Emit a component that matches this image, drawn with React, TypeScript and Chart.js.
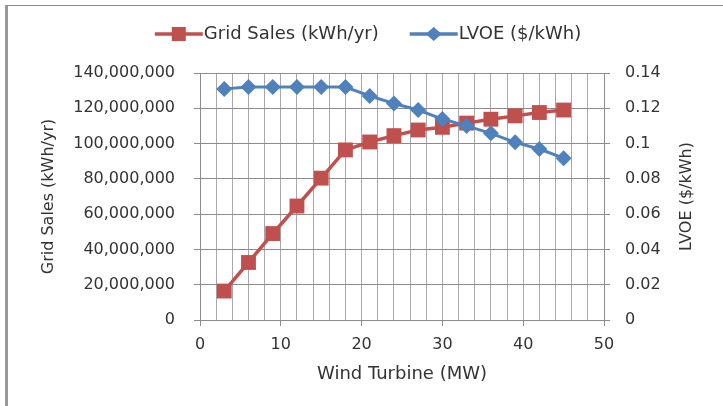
import React, { useEffect, useRef } from 'react';
import { Chart, registerables } from 'chart.js';

Chart.register(...registerables);

// ---- data ----
const windTurbineMW = [3, 6, 9, 12, 15, 18, 21, 24, 27, 30, 33, 36, 39, 42, 45];
const gridSalesKWh = [
  16.4e6, 32.6e6, 49.0e6, 64.6e6, 80.4e6, 96.4e6, 100.9e6, 104.5e6,
  107.7e6, 109.2e6, 111.6e6, 113.8e6, 115.7e6, 117.6e6, 119.0e6,
];
const lvoeDollarPerKWh = [
  0.131, 0.132, 0.132, 0.132, 0.132, 0.132, 0.127, 0.1227,
  0.119, 0.1139, 0.110, 0.1058, 0.1007, 0.0969, 0.0917,
];
const seriesLabels = ['Grid Sales (kWh/yr)', 'LVOE ($/kWh)'];
const xTitle = 'Wind Turbine (MW)';
const leftTitle = 'Grid Sales (kWh/yr)';
const rightTitle = 'LVOE ($/kWh)';

const FONT = "'DejaVu Sans', sans-serif";
const TEXT = '#333333';
const RED = '#C0504D';
const BLUE = '#4F81BD';

const overlayPlugin = {
  id: 'overlay',
  afterDraw(chart: any) {
    const ctx: CanvasRenderingContext2D = chart.ctx;
    ctx.save();
    // legend
    ctx.font = `18px ${FONT}`;
    ctx.textBaseline = 'middle';
    const items = chart.data.datasets.map((ds: any) => ({
      label: ds.label,
      color: ds.borderColor,
      style: ds.pointStyle,
      w: ctx.measureText(ds.label).width,
    }));
    const lineLen = 48;
    const gapText = 1;
    const gapItem = 31;
    const total =
      items.reduce((s: number, it: any) => s + lineLen + gapText + it.w, 0) +
      gapItem * (items.length - 1);
    let x = 368 - total / 2;
    const y = 34;
    items.forEach((it: any) => {
      ctx.strokeStyle = it.color;
      ctx.lineWidth = 3.5;
      ctx.beginPath();
      ctx.moveTo(x, y);
      ctx.lineTo(x + lineLen, y);
      ctx.stroke();
      ctx.fillStyle = it.color;
      const cx = x + lineLen / 2;
      if (it.style === 'rect') {
        ctx.fillRect(cx - 7, y - 7, 14, 14);
      } else {
        ctx.beginPath();
        ctx.moveTo(cx, y - 7);
        ctx.lineTo(cx + 8, y);
        ctx.lineTo(cx, y + 7);
        ctx.lineTo(cx - 8, y);
        ctx.closePath();
        ctx.fill();
      }
      ctx.fillStyle = TEXT;
      ctx.textAlign = 'left';
      ctx.fillText(it.label, x + lineLen + gapText, y);
      x += lineLen + gapText + it.w + gapItem;
    });
    // right axis title (reads bottom to top)
    ctx.font = `16px ${FONT}`;
    ctx.fillStyle = TEXT;
    ctx.translate(687, (chart.chartArea.top + chart.chartArea.bottom) / 2);
    ctx.rotate(-Math.PI / 2);
    ctx.textAlign = 'center';
    ctx.textBaseline = 'middle';
    ctx.fillText(rightTitle, 0, 0);
    ctx.restore();
  },
};

export default function App() {
  const canvasRef = useRef<HTMLCanvasElement | null>(null);

  useEffect(() => {
    const canvas = canvasRef.current;
    if (!canvas) return;
    const chart = new Chart(canvas, {
      type: 'line',
      data: {
        datasets: [
          {
            label: seriesLabels[0],
            data: windTurbineMW.map((x, i) => ({ x, y: gridSalesKWh[i] })),
            borderColor: RED,
            backgroundColor: RED,
            borderWidth: 3.5,
            pointStyle: 'rect',
            pointRadius: 10.5,
            pointBorderWidth: 0,
            yAxisID: 'y',
            order: 2,
          },
          {
            label: seriesLabels[1],
            data: windTurbineMW.map((x, i) => ({ x, y: lvoeDollarPerKWh[i] })),
            borderColor: BLUE,
            backgroundColor: BLUE,
            borderWidth: 3,
            pointStyle: 'rectRot',
            pointRadius: 8,
            pointBorderWidth: 0,
            yAxisID: 'y1',
            order: 1,
          },
        ],
      },
      options: {
        responsive: false,
        animation: false,
        devicePixelRatio: 1,
        layout: { padding: { top: 73, left: 0, right: 0, bottom: 0 } },
        plugins: {
          legend: { display: false },
          title: { display: false },
          tooltip: { enabled: false },
        },
        scales: {
          x: {
            type: 'linear',
            min: 0,
            max: 50,
            afterFit(scale: any) {
              scale.height = 86;
            },
            ticks: {
              stepSize: 2,
              autoSkip: false,
              maxRotation: 0,
              padding: 9,
              color: TEXT,
              font: { family: FONT, size: 16 },
              callback: (v: any) => (Number(v) % 10 === 0 ? String(v) : ''),
            },
            grid: {
              color: '#a8a8a8',
              lineWidth: 1,
              tickLength: 6,
              tickColor: (c: any) =>
                c.tick && c.tick.value % 10 === 0 ? '#8c8c8c' : 'rgba(0,0,0,0)',
            },
            border: { color: '#8c8c8c' },
            title: {
              display: true,
              text: xTitle,
              color: TEXT,
              font: { family: FONT, size: 18 },
              padding: { top: 0, bottom: 21 },
            },
          },
          y: {
            type: 'linear',
            position: 'left',
            min: 0,
            max: 140000000,
            afterFit(scale: any) {
              scale.width = 200;
            },
            ticks: {
              stepSize: 20000000,
              padding: 19,
              color: TEXT,
              font: { family: FONT, size: 16 },
              callback: (v: any) => Number(v).toLocaleString('en-US'),
            },
            grid: { color: '#8c8c8c', lineWidth: 1, tickLength: 6, tickColor: '#8c8c8c' },
            border: { color: '#8c8c8c' },
            title: {
              display: true,
              text: leftTitle,
              color: TEXT,
              font: { family: FONT, size: 16 },
              padding: { top: 39, bottom: 0 },
            },
          },
          y1: {
            type: 'linear',
            position: 'right',
            min: 0,
            max: 0.14,
            afterFit(scale: any) {
              scale.width = 119;
            },
            ticks: {
              stepSize: 0.02,
              padding: 15,
              color: TEXT,
              font: { family: FONT, size: 16 },
              callback: (v: any) => String(Number(Number(v).toFixed(2))),
            },
            grid: {
              drawOnChartArea: false,
              tickLength: 6,
              tickColor: '#8c8c8c',
            },
            border: { color: '#8c8c8c' },
            title: { display: false },
          },
        },
      },
      plugins: [overlayPlugin],
    } as any);
    return () => chart.destroy();
  }, []);

  return (
    <div
      style={{
        position: 'fixed',
        left: 0,
        top: 0,
        width: 723,
        height: 406,
        background: '#ffffff',
        overflow: 'hidden',
      }}
    >
      <div
        style={{
          position: 'absolute',
          left: 5,
          top: 5,
          right: -10,
          bottom: -10,
          borderTop: '1px solid #8a8a8a',
          borderLeft: '3px solid #9a9a9a',
        }}
      />
      <canvas
        ref={canvasRef}
        width={723}
        height={406}
        style={{ position: 'absolute', left: 0, top: 0, width: 723, height: 406 }}
      />
    </div>
  );
}
